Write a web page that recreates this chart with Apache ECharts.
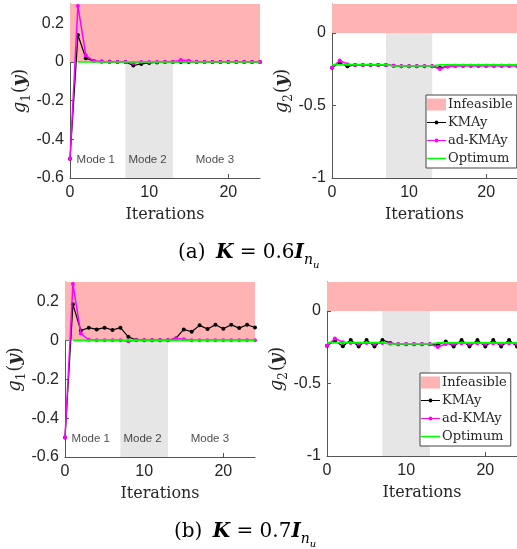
<!DOCTYPE html>
<html><head><meta charset="utf-8">
<script src="https://cdn.jsdelivr.net/npm/echarts@6/dist/echarts.min.js"></script>
<style>html,body{margin:0;padding:0;background:#fff}#c{width:517px;height:549px}</style>
</head><body><div id="c"></div>
<script>
// ---------- data ----------
const iterations = [0,1,2,3,4,5,6,7,8,9,10,11,12,13,14,15,16,17,18,19,20,21,22,23,24];

// (a) K = 0.6 I
const g1KMAyA   = [-0.5,0.14,0.02,0.005,0.002,0.001,0,0,-0.018,-0.01,-0.005,-0.002,0,0,0,0,0,0,0,0,0,0,0,0,0];
const g1AdKMAyA = [-0.5,0.29,0.035,0.005,0.001,0,0,0,-0.005,0,0,0,0,0,0.01,0.006,0,0,0,0,0,0,0,0,0];
const g1OptA    = [null,0,0,0,0,0,0,0,0,0,0,0,0,0,0,0,0,0,0,0,0,0,0,0,0];
const g2KMAyA   = [-0.24,-0.205,-0.23,-0.22,-0.22,-0.22,-0.22,-0.22,-0.225,-0.23,-0.23,-0.23,-0.23,-0.23,-0.24,-0.23,-0.225,-0.225,-0.225,-0.225,-0.225,-0.225,-0.225,-0.225,-0.225];
const g2AdKMAyA = [-0.24,-0.19,-0.215,-0.22,-0.22,-0.22,-0.22,-0.22,-0.225,-0.23,-0.23,-0.23,-0.23,-0.23,-0.248,-0.232,-0.228,-0.226,-0.225,-0.225,-0.225,-0.225,-0.225,-0.225,-0.225];
const g2OptA    = [-0.218,-0.218,-0.218,-0.218,-0.218,-0.218,-0.218,-0.218,-0.228,-0.228,-0.228,-0.228,-0.228,-0.228,-0.22,-0.22,-0.22,-0.22,-0.22,-0.22,-0.22,-0.22,-0.22,-0.22,-0.22];

// (b) K = 0.7 I
const g1KMAyB   = [-0.5,0.185,0.05,0.065,0.056,0.065,0.053,0.065,0.018,0.002,0,0,0,0,0.01,0.056,0.044,0.077,0.058,0.08,0.06,0.08,0.063,0.08,0.066];
const g1AdKMAyB = [-0.5,0.29,0.035,0.003,0,0,0,0,-0.005,0,0,0,0,0,0.01,0.005,0,0,0,0,0,0,0,0,0];
const g1OptB    = [null,0,0,0,0,0,0,0,0,0,0,0,0,0,0,0,0,0,0,0,0,0,0,0,0];
const g2KMAyB   = [-0.24,-0.205,-0.243,-0.2,-0.245,-0.2,-0.245,-0.2,-0.22,-0.23,-0.23,-0.23,-0.23,-0.23,-0.235,-0.21,-0.245,-0.2,-0.245,-0.2,-0.245,-0.2,-0.245,-0.2,-0.245];
const g2AdKMAyB = [-0.24,-0.19,-0.215,-0.22,-0.225,-0.22,-0.225,-0.22,-0.225,-0.23,-0.23,-0.23,-0.23,-0.23,-0.248,-0.228,-0.225,-0.222,-0.225,-0.222,-0.225,-0.222,-0.225,-0.222,-0.225];
const g2OptB    = g2OptA;

const xTicks  = [0,10,20];
const g1Ticks = [-0.6,-0.4,-0.2,0,0.2];
const g2Ticks = [-1,-0.5,0];
const modeNames = ['Mode 1','Mode 2','Mode 3'];
const modeX = [3.25, 9.8, 18.3];
const modeY = -0.505;
const mode2Range = [7, 13];
const seriesNames = ['Infeasible','KMAy','ad-KMAy','Optimum'];
const captions = ['(a)','(b)'];
const gains = ['0.6','0.7'];

// ---------- styles ----------
const SERIF = 'DejaVu Serif';
const SANS = 'Liberation Sans';
const PINK = '#ffb3b3', GREY = '#e6e6e6', AXIS = '#555', TXT = '#262626';

const grids = [
  {left:70, top:4, width:190, height:174},
  {left:332, top:4, width:190, height:174},
  {left:65, top:282, width:190, height:175},
  {left:327, top:282, width:190, height:174}
];

function yName(sub){
  return '{g|g}{s|' + sub + '}{p|(}{y|y}{p|)}';
}
const yRich = {
  g:{fontFamily:SERIF,fontStyle:'italic',fontSize:18,lineHeight:20,verticalAlign:'top',color:TXT},
  s:{fontFamily:SERIF,fontSize:12,lineHeight:12,padding:[9,1,0,0],verticalAlign:'top',color:TXT},
  p:{fontFamily:SERIF,fontSize:18,lineHeight:20,verticalAlign:'top',color:TXT},
  y:{fontFamily:SERIF,fontStyle:'italic',fontWeight:'bold',fontSize:18,lineHeight:20,verticalAlign:'top',color:TXT}
};

const panels = [
  {k:g1KMAyA, a:g1AdKMAyA, o:g1OptA, min:-0.6, max:0.3, ticks:g1Ticks, sub:'1', modes:true},
  {k:g2KMAyA, a:g2AdKMAyA, o:g2OptA, min:-1, max:0.2, ticks:g2Ticks, sub:'2', modes:false},
  {k:g1KMAyB, a:g1AdKMAyB, o:g1OptB, min:-0.6, max:0.3, ticks:g1Ticks, sub:'1', modes:true},
  {k:g2KMAyB, a:g2AdKMAyB, o:g2OptB, min:-1, max:0.2, ticks:g2Ticks, sub:'2', modes:false}
];

const xAxes = [], yAxes = [], series = [];
panels.forEach((p,i)=>{
  xAxes.push({
    type:'value', gridIndex:i, min:0, max:24, interval:10,
    name:'Iterations', nameLocation:'middle', nameGap:29,
    nameTextStyle:{fontFamily:SERIF,fontSize:16,color:TXT},
    axisLine:{show:true,onZero:false,lineStyle:{color:AXIS,width:1}},
    axisTick:{show:true,inside:true,length:4,lineStyle:{color:AXIS},customValues:xTicks},
    axisLabel:{fontFamily:SANS,fontSize:16,color:TXT,margin:7,customValues:xTicks},
    splitLine:{show:false}
  });
  yAxes.push({
    type:'value', gridIndex:i, min:p.min, max:p.max,
    interval: p.sub==='1' ? 0.2 : 0.5,
    name:yName(p.sub), nameLocation:'middle', nameRotate:90, nameGap:35,
    nameTextStyle:{rich:yRich},
    axisLine:{show:true,lineStyle:{color:AXIS,width:1}},
    axisTick:{show:true,inside:true,length:4,lineStyle:{color:AXIS},customValues:p.ticks},
    axisLabel:{fontFamily:SANS,fontSize:16,color:TXT,margin:6,customValues:p.ticks},
    splitLine:{show:false}
  });
  series.push({
    name:seriesNames[0], type:'line', xAxisIndex:i, yAxisIndex:i, data:[],
    itemStyle:{color:PINK}, lineStyle:{color:PINK}, silent:true,
    markArea:{silent:true, data:[
      [{xAxis:mode2Range[0], yAxis:p.min, itemStyle:{color:GREY}},{xAxis:mode2Range[1], yAxis:0}],
      [{xAxis:0, yAxis:0, itemStyle:{color:PINK}},{xAxis:24, yAxis:p.max}]
    ]}
  });
  series.push({
    name:seriesNames[1], type:'line', xAxisIndex:i, yAxisIndex:i,
    data: iterations.map((x,j)=>[x,p.k[j]]),
    color:'#000', lineStyle:{width:1.2,color:'#000'}, itemStyle:{color:'#000'},
    symbol:'circle', symbolSize:4, showSymbol:true, showAllSymbol:true, z:3
  });
  series.push({
    name:seriesNames[2], type:'line', xAxisIndex:i, yAxisIndex:i,
    data: iterations.map((x,j)=>[x,p.a[j]]),
    color:'#ff00ff', lineStyle:{width:1.5,color:'#ff00ff'}, itemStyle:{color:'#ff00ff'},
    symbol:'circle', symbolSize:4, showSymbol:true, showAllSymbol:true, z:4
  });
  series.push({
    name:seriesNames[3], type:'line', xAxisIndex:i, yAxisIndex:i,
    data: iterations.map((x,j)=>[x,p.o[j]]),
    color:'#00ff00', lineStyle:{width:1.6,color:'#00ff00'}, itemStyle:{color:'#00ff00'},
    symbol:'none', showSymbol:false, z:5
  });
  if (p.modes) {
    series.push({
      name:'modes', type:'scatter', xAxisIndex:i, yAxisIndex:i, symbolSize:0, silent:true, z:6,
      data: modeNames.map((n,j)=>({name:n, value:[modeX[j], modeY]})),
      label:{show:true, position:'inside', formatter:'{b}', fontFamily:SANS, fontSize:11.5, color:'#1a1a1a'}
    });
  }
});

const lineDotIcon = 'path://M0,1.4H20V2.6H0Z M10,0A2,2 0 1 1 10,4A2,2 0 1 1 10,0Z';
const lineIcon = 'path://M0,0H20V1.6H0Z';
function legendAt(left, top){
  return {
    orient:'vertical', left:left, top:top, padding:[3,4,3,1], itemGap:5,
    itemWidth:19, itemHeight:12, backgroundColor:'#fff', borderColor:'#444', borderWidth:1,
    selectedMode:false,
    textStyle:{fontFamily:SERIF,fontSize:13,color:TXT,padding:[0,0,0,-3]},
    data:[
      {name:seriesNames[0], icon:'rect'},
      {name:seriesNames[1], icon:lineDotIcon},
      {name:seriesNames[2], icon:lineDotIcon},
      {name:seriesNames[3], icon:lineIcon}
    ]
  };
}

const capRich = {
  t:{fontFamily:SERIF,fontSize:20,lineHeight:24,verticalAlign:'top',color:'#000'},
  k:{fontFamily:SERIF,fontSize:20,lineHeight:24,fontWeight:'bold',fontStyle:'italic',verticalAlign:'top',color:'#000',padding:[0,0,0,4]},
  b:{fontFamily:SERIF,fontSize:20,lineHeight:24,fontWeight:'bold',fontStyle:'italic',verticalAlign:'top',color:'#000'},
  s:{fontFamily:SERIF,fontSize:14,lineHeight:14,fontStyle:'italic',padding:[10,0,0,0],verticalAlign:'top',color:'#000'},
  ss:{fontFamily:SERIF,fontSize:10,lineHeight:10,fontStyle:'italic',padding:[17,0,0,0],verticalAlign:'top',color:'#000'}
};
function caption(i){
  return '{t|' + captions[i] + ' }{k|K}{t| = ' + gains[i] + '}{b|I}{s|n}{ss|u}';
}

const chart = echarts.init(document.getElementById('c'), null, {renderer:'canvas'});
chart.setOption({
  animation:false,
  backgroundColor:'#fff',
  grid:grids,
  xAxis:xAxes,
  yAxis:yAxes,
  legend:[legendAt(426,95), legendAt(420,373)],
  series:series,
  graphic:[
    {type:'text', left:178, top:243, style:{text:caption(0), rich:capRich}},
    {type:'text', left:174, top:522, style:{text:caption(1), rich:capRich}}
  ]
});
</script></body></html>
